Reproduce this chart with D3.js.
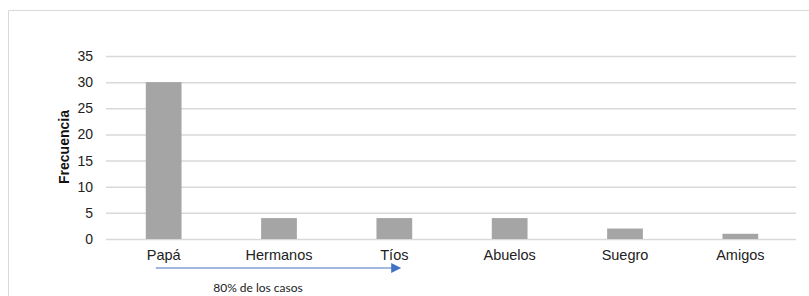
<!DOCTYPE html>
<html>
<head>
<meta charset="utf-8">
<script src="https://cdn.jsdelivr.net/npm/d3@7"></script>
<style>
  body { margin: 0; background: #fff; }
  svg { display: block; }
</style>
</head>
<body>
<div id="chart"></div>
<script>
var categories = ['Papá', 'Hermanos', 'Tíos', 'Abuelos', 'Suegro', 'Amigos'];
var frecuencia = [30, 4, 4, 4, 2, 1];
var yTicks = [0, 5, 10, 15, 20, 25, 30, 35];
var yLabel = 'Frecuencia';
var noteText = '80% de los casos';
var noteFrom = 'Papá', noteTo = 'Tíos';

var width = 809, height = 296;
var margin = {left: 106, right: 12, top: 56, bottom: 57};

var svg = d3.select('#chart').append('svg')
    .attr('width', width)
    .attr('height', height);

// chart frame (only top and left edges show in the picture)
svg.append('path')
    .attr('d', 'M8.5,' + height + 'V10.5H' + width)
    .attr('fill', 'none')
    .attr('stroke', '#d9d9d9');

var x = d3.scaleBand()
    .domain(categories)
    .range([margin.left, width - margin.right + 1])
    .paddingInner(0.69)
    .paddingOuter(0.345);

var y = d3.scaleLinear()
    .domain([0, 35])
    .range([239, 56]);

var yAxis = d3.axisLeft(y)
    .tickValues(yTicks)
    .tickSize(-(width - margin.right - 1 - margin.left))
    .tickPadding(13);

var gy = svg.append('g')
    .attr('transform', 'translate(' + margin.left + ',0)')
    .call(yAxis);
gy.select('.domain').remove();
gy.selectAll('.tick line')
    .attr('stroke', '#d9d9d9')
    .attr('stroke-width', 1.5);
gy.selectAll('.tick text')
    .attr('font-family', 'Liberation Sans, Arial, sans-serif')
    .attr('font-size', 14)
    .attr('fill', '#222');

svg.selectAll('.bar')
    .data(frecuencia)
  .enter().append('rect')
    .attr('class', 'bar')
    .attr('x', function(d, i) { return x(categories[i]); })
    .attr('y', function(d) { return y(d); })
    .attr('width', x.bandwidth())
    .attr('height', function(d) { return y(0) - y(d); })
    .attr('fill', '#a5a5a5');

var xAxis = d3.axisBottom(x).tickSize(0).tickPadding(11);
var gx = svg.append('g')
    .attr('transform', 'translate(0,' + y(0) + ')')
    .call(xAxis);
gx.select('.domain').remove();
gx.selectAll('.tick text')
    .attr('font-family', 'Liberation Sans, Arial, sans-serif')
    .attr('font-size', 14.5)
    .attr('fill', '#222');

svg.append('text')
    .attr('transform', 'translate(69,147) rotate(-90)')
    .attr('text-anchor', 'middle')
    .attr('font-family', 'Liberation Sans, Arial, sans-serif')
    .attr('font-size', 14)
    .attr('font-weight', 'bold')
    .attr('fill', '#111')
    .text(yLabel);

// arrow under the first categories
var ax0 = x(noteFrom) + 10;
var ax1 = x(noteTo) + x.bandwidth() - 11;
var ay = 268;
svg.append('line')
    .attr('x1', ax0).attr('y1', ay)
    .attr('x2', ax1 - 8).attr('y2', ay)
    .attr('stroke', '#4472c4')
    .attr('stroke-width', 1);
svg.append('path')
    .attr('d', 'M' + (ax1 - 10) + ',' + (ay - 5) + 'L' + ax1 + ',' + ay + 'L' + (ax1 - 10) + ',' + (ay + 5) + 'Z')
    .attr('fill', '#4472c4');

svg.append('text')
    .attr('x', 258)
    .attr('y', 292)
    .attr('text-anchor', 'middle')
    .attr('font-family', 'Lato, Carlito, sans-serif')
    .attr('font-size', 12)
    .attr('fill', '#222')
    .text(noteText);
</script>
</body>
</html>
